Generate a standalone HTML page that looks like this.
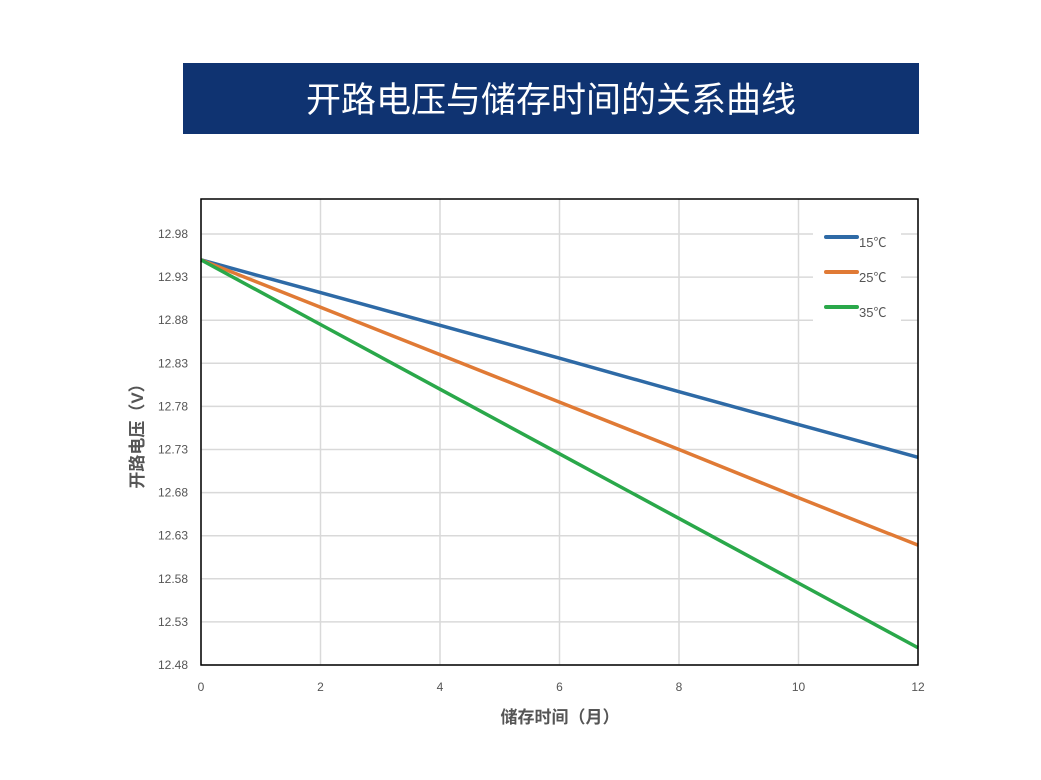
<!DOCTYPE html>
<html><head><meta charset="utf-8"><style>
body{margin:0;background:#fff;}
svg text{font-family:"Liberation Sans","Noto Sans CJK SC",sans-serif;}
</style></head><body>
<svg width="1041" height="775" xmlns="http://www.w3.org/2000/svg">
<rect x="183" y="63" width="736" height="71" fill="#0f3371"/>
<text x="551" y="112" text-anchor="middle" font-size="35" fill="#fff">开路电压与储存时间的关系曲线</text>
<g id="grid"></g>
<g id="ticks"></g>
<g id="lines"></g>
<rect x="201" y="199" width="717" height="466" fill="none" stroke="#000" stroke-width="1.5"/>
<rect x="813" y="224" width="88" height="98" fill="#fff"/>
<g id="legend"></g>
<text x="560" y="723" text-anchor="middle" font-size="17" fill="#555" font-weight="bold">储存时间（月）</text>
<text transform="translate(143,432) rotate(-90)" text-anchor="middle" font-size="17" fill="#555" font-weight="bold">开路电压（V）</text>
</svg>
<script>
const xTicks=[0,2,4,6,8,10,12];
const yTicks=[12.48,12.53,12.58,12.63,12.68,12.73,12.78,12.83,12.88,12.93,12.98];
const months=[0,2,4,6,8,10,12];
const s15=[12.95,12.912,12.874,12.836,12.797,12.759,12.721];
const s25=[12.95,12.895,12.84,12.785,12.73,12.674,12.619];
const s35=[12.95,12.875,12.80,12.725,12.65,12.575,12.50];
const seriesNames=["15℃","25℃","35℃"];
const colors=["#2e6aa6","#e07a35","#2aa84a"];
const X=v=>201+v*(717/12);
const Y=v=>665-(v-12.48)*(431/0.5);
const NS="http://www.w3.org/2000/svg";
function mk(t,a,p){const e=document.createElementNS(NS,t);for(const k in a)e.setAttribute(k,a[k]);p.appendChild(e);return e;}
const grid=document.getElementById('grid'),ticks=document.getElementById('ticks'),lines=document.getElementById('lines'),leg=document.getElementById('legend');
yTicks.forEach(v=>{
 const l=mk('line',{x1:201,x2:918,y1:Y(v),y2:Y(v),stroke:'#d9d9d9','stroke-width':1.5},grid);
 
 
 const t=mk('text',{x:188,y:Y(v)+4,'text-anchor':'end','font-size':12,fill:'#555'},ticks);
 t.textContent=v.toFixed(2);
 
 
});
xTicks.forEach(v=>{
 const l=mk('line',{x1:X(v),x2:X(v),y1:199,y2:665,stroke:'#d9d9d9','stroke-width':1.5},grid);
 
 
 const t=mk('text',{x:X(v),y:691,'text-anchor':'middle','font-size':12,fill:'#555'},ticks);
 t.textContent=v;
 
 
});
[s15,s25,s35].forEach((s,i)=>{
 const p=mk('polyline',{points:s.map((v,j)=>X(months[j])+','+Y(v)).join(' '),fill:'none',stroke:colors[i],'stroke-width':3.5},lines);
 
 
 const ly=237+i*35;
 const ll=mk('line',{x1:826,x2:857,y1:ly,y2:ly,stroke:colors[i],'stroke-width':4,'stroke-linecap':'round'},leg);
 
 
 const lt=mk('text',{x:859,y:ly+10,'font-size':13,fill:'#555'},leg);
 lt.textContent=seriesNames[i];
 
 
});
</script>
</body></html>
